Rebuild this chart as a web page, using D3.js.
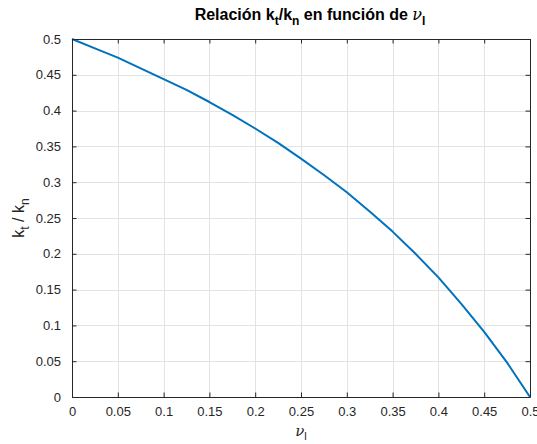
<!DOCTYPE html>
<html>
<head>
<meta charset="utf-8">
<script src="https://cdn.jsdelivr.net/npm/d3@7"></script>
<style>
  html, body { margin: 0; padding: 0; background: #fff; }
  svg { display: block; font-family: "Liberation Sans", Arial, Helvetica, sans-serif; }
</style>
</head>
<body>
<svg id="chart" width="537" height="444"></svg>
<script>
// Poisson ratio samples and the stiffness ratio kt/kn
const nu = [0, 0.025, 0.05, 0.075, 0.1, 0.125, 0.15, 0.175, 0.2, 0.225, 0.25,
            0.275, 0.3, 0.325, 0.35, 0.375, 0.4, 0.425, 0.45, 0.475, 0.5];
const ratio = [0.5, 0.487, 0.474, 0.459, 0.444, 0.429, 0.412, 0.394, 0.375, 0.355, 0.333,
               0.310, 0.286, 0.259, 0.231, 0.2, 0.167, 0.130, 0.091, 0.048, 0];
const xTicks = [0, 0.05, 0.1, 0.15, 0.2, 0.25, 0.3, 0.35, 0.4, 0.45, 0.5];
const yTicks = [0, 0.05, 0.1, 0.15, 0.2, 0.25, 0.3, 0.35, 0.4, 0.45, 0.5];

const svg = d3.select("#chart");
const m = { left: 72, right: 530, top: 39, bottom: 397 };

const x = d3.scaleLinear().domain([0, 0.5]).range([m.left, m.right]);
const y = d3.scaleLinear().domain([0, 0.5]).range([m.bottom, m.top]);

const axisColor = "#262626";
const tickLen = 4.5;

// grid
const grid = svg.append("g");
grid.selectAll("line.gx").data(xTicks).join("line")
  .attr("x1", d => Math.round(x(d)) + 0.5).attr("x2", d => Math.round(x(d)) + 0.5)
  .attr("y1", m.top).attr("y2", m.bottom)
  .attr("stroke", "#e3e3e3").attr("stroke-width", 1);
grid.selectAll("line.gy").data(yTicks).join("line")
  .attr("y1", d => Math.round(y(d)) + 0.5).attr("y2", d => Math.round(y(d)) + 0.5)
  .attr("x1", m.left).attr("x2", m.right)
  .attr("stroke", "#e3e3e3").attr("stroke-width", 1);

// curve
svg.append("path")
  .datum(nu.map((v, i) => [v, ratio[i]]))
  .attr("fill", "none")
  .attr("stroke", "#0072BD")
  .attr("stroke-width", 2)
  .attr("stroke-linejoin", "round")
  .attr("d", d3.line().x(d => x(d[0])).y(d => y(d[1])));

// axes (box with inward ticks on all sides)
const fmt = d => d3.format("")(d);
const bottomAxis = d3.axisBottom(x).tickValues(xTicks).tickFormat(fmt)
  .tickSizeInner(-tickLen).tickSizeOuter(0).tickPadding(10);
const topAxis = d3.axisTop(x).tickValues(xTicks).tickFormat("")
  .tickSizeInner(-tickLen).tickSizeOuter(0);
const leftAxis = d3.axisLeft(y).tickValues(yTicks).tickFormat(fmt)
  .tickSizeInner(-tickLen).tickSizeOuter(0).tickPadding(11);
const rightAxis = d3.axisRight(y).tickValues(yTicks).tickFormat("")
  .tickSizeInner(-tickLen).tickSizeOuter(0);

function style(g) {
  g.selectAll("path").attr("stroke", axisColor).attr("stroke-width", 1);
  g.selectAll("line").attr("stroke", axisColor).attr("stroke-width", 1);
  g.selectAll("text").attr("fill", axisColor).attr("font-size", 13)
    .attr("font-family", "'Liberation Sans', Arial, sans-serif");
}

svg.append("g").attr("transform", `translate(0,${m.bottom})`).call(bottomAxis).call(style);
svg.append("g").attr("transform", `translate(0,${m.top})`).call(topAxis).call(style);
svg.append("g").attr("transform", `translate(${m.left},0)`).call(leftAxis).call(style);
svg.append("g").attr("transform", `translate(${m.right},0)`).call(rightAxis).call(style);

// title
const title = svg.append("text")
  .attr("x", 310).attr("y", 20)
  .attr("text-anchor", "middle")
  .attr("font-size", 16).attr("font-weight", "bold").attr("fill", "#000");
title.append("tspan").text("Relación k");
title.append("tspan").attr("font-size", 12).attr("dy", 5).text("t");
title.append("tspan").attr("dy", -5).text("/k");
title.append("tspan").attr("font-size", 12).attr("dy", 5).text("n");
title.append("tspan").attr("dy", -5).text(" en función de ");
title.append("tspan").attr("font-family", "'DejaVu Serif', serif").attr("font-style", "italic")
  .attr("font-weight", "normal").text("ν");
title.append("tspan").attr("font-size", 12).attr("dy", 5).text("l");

// x label
const xl = svg.append("text")
  .attr("x", (m.left + m.right) / 2).attr("y", 436)
  .attr("text-anchor", "middle").attr("font-size", 15).attr("fill", axisColor);
xl.append("tspan").attr("font-family", "'DejaVu Serif', serif").attr("font-style", "italic").text("ν");
xl.append("tspan").attr("font-size", 11).attr("dy", 4).text("l");

// y label
const yl = svg.append("text")
  .attr("transform", `translate(24,${(m.top + m.bottom) / 2}) rotate(-90)`)
  .attr("text-anchor", "middle").attr("font-size", 16).attr("fill", axisColor);
yl.append("tspan").text("k");
yl.append("tspan").attr("font-size", 12).attr("dy", 5).text("t");
yl.append("tspan").attr("dy", -5).text(" / k");
yl.append("tspan").attr("font-size", 12).attr("dy", 5).text("n");
</script>
</body>
</html>
